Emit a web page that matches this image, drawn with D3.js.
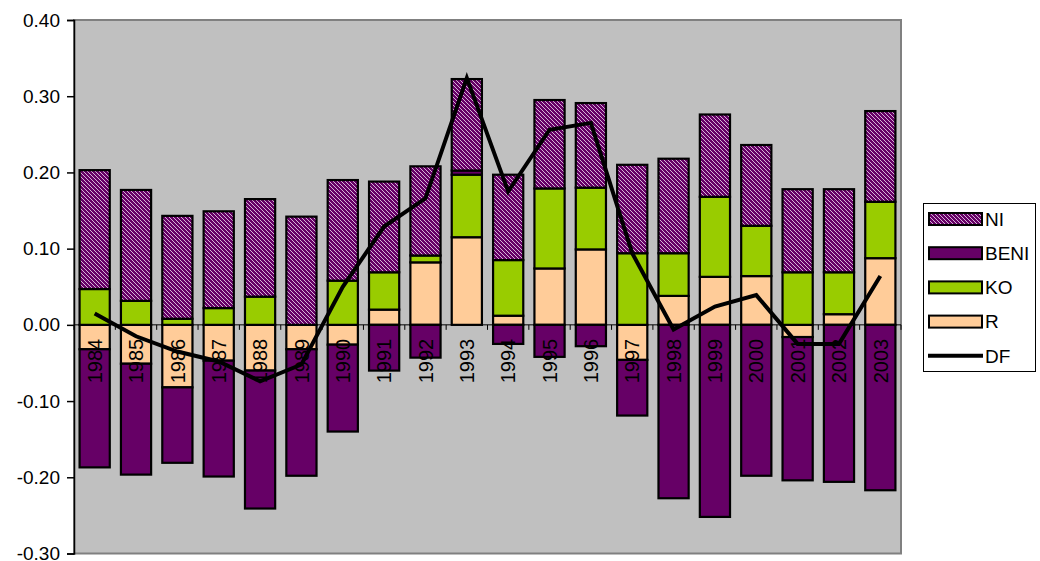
<!DOCTYPE html>
<html>
<head>
<meta charset="utf-8">
<script src="https://cdn.jsdelivr.net/npm/d3@7"></script>
<style>
  html, body { margin: 0; padding: 0; background: #fff; }
  svg { display: block; font-family: "Liberation Sans", Arial, sans-serif; }
</style>
</head>
<body>
<svg id="chart" width="1040" height="561"></svg>
<script>
// Yearly components (stacked) and their total DF
const years = ["1984","1985","1986","1987","1988","1989","1990","1991","1992","1993",
               "1994","1995","1996","1997","1998","1999","2000","2001","2002","2003"];
const R    = [-0.032,-0.051,-0.082,-0.047,-0.060,-0.032,-0.026, 0.020, 0.082, 0.115,
               0.012, 0.074, 0.099,-0.046, 0.038, 0.063, 0.064,-0.016, 0.014, 0.0875];
const KO   = [ 0.047, 0.0315,0.008, 0.022, 0.037, 0.000, 0.058, 0.049, 0.009, 0.082,
               0.073, 0.105, 0.081, 0.094, 0.056, 0.105, 0.066, 0.069, 0.055, 0.074];
const BENI = [-0.155,-0.1455,-0.099,-0.152,-0.181,-0.166,-0.114,-0.060,-0.043, 0.0055,
              -0.025,-0.042,-0.028,-0.073,-0.2275,-0.252,-0.198,-0.188,-0.206,-0.217];
const NI   = [ 0.156, 0.1455,0.135, 0.127, 0.128, 0.142, 0.132, 0.119, 0.117, 0.120,
               0.112, 0.116, 0.111, 0.116, 0.124, 0.108, 0.106, 0.109, 0.109, 0.119];
const DF   = [ 0.015,-0.015,-0.035,-0.048,-0.074,-0.052, 0.050, 0.129, 0.166, 0.324,
               0.175, 0.256, 0.265, 0.094,-0.006, 0.024, 0.039,-0.025,-0.025, 0.064];
const yTicks = [-0.3,-0.2,-0.1,0,0.1,0.2,0.3,0.4];
const legendItems = ["NI","BENI","KO","R","DF"];

const stackKeys = ["R","KO","BENI","NI"];
const seriesData = { R, KO, BENI, NI };
const rows = years.map((yr, i) => {
  const row = { year: yr };
  stackKeys.forEach(k => row[k] = seriesData[k][i]);
  return row;
});

const svg = d3.select("#chart");
const plot = { left: 74, top: 20, right: 901, bottom: 553.5 };

const x = d3.scaleBand().domain(years).range([plot.left, plot.right])
  .paddingInner(0.27).paddingOuter(0.135);
const y = d3.scaleLinear().domain([-0.3, 0.4]).range([plot.bottom, plot.top]);

// Hatched fill for NI
const defs = svg.append("defs");
const pat = defs.append("pattern").attr("id", "hatchNI")
  .attr("patternUnits", "userSpaceOnUse").attr("width", 4).attr("height", 4);
pat.append("rect").attr("width", 4).attr("height", 4).attr("fill", "#660066");
pat.append("path").attr("d", "M-1,-1L5,5M3,-1L5,1M-1,3L1,5")
  .attr("stroke", "#ead2ea").attr("stroke-width", 0.85);

const fills = { R: "#FFCC99", KO: "#99CC00", BENI: "#660066", NI: "url(#hatchNI)" };

// Plot area
svg.append("rect")
  .attr("x", plot.left).attr("y", plot.top)
  .attr("width", plot.right - plot.left).attr("height", plot.bottom - plot.top)
  .attr("fill", "#C0C0C0").attr("stroke", "#808080").attr("stroke-width", 2);

// Stacked bars, positives upward and negatives downward from zero
const stacked = d3.stack().keys(stackKeys).offset(d3.stackOffsetDiverging)(rows);
svg.append("g").selectAll("g").data(stacked).join("g")
  .attr("fill", d => fills[d.key])
  .selectAll("rect").data(d => d).join("rect")
  .attr("x", d => x(d.data.year))
  .attr("width", x.bandwidth())
  .attr("y", d => y(Math.max(d[0], d[1])))
  .attr("height", d => Math.abs(y(d[0]) - y(d[1])))
  .attr("stroke", "#000").attr("stroke-width", 2.2);

// Category axis along zero
const y0 = y(0);
const gx = svg.append("g");
gx.append("line").attr("x1", plot.left).attr("x2", plot.right)
  .attr("y1", y0).attr("y2", y0).attr("stroke", "#000").attr("stroke-width", 1);
gx.selectAll("line.tick").data(d3.range(years.length + 1)).join("line")
  .attr("class", "tick")
  .attr("x1", i => plot.left + i * x.step()).attr("x2", i => plot.left + i * x.step())
  .attr("y1", y0).attr("y2", y0 + 5).attr("stroke", "#000").attr("stroke-width", 1);

// DF line
const line = d3.line().x((d, i) => x(years[i]) + x.bandwidth() / 2).y(d => y(d));
svg.append("path").datum(DF)
  .attr("d", line).attr("fill", "none")
  .attr("stroke", "#000").attr("stroke-width", 4).attr("stroke-linejoin", "miter");

// Year labels, rotated, just under zero
gx.selectAll("text").data(years).join("text")
  .attr("transform", d => `translate(${x(d) + x.bandwidth() / 2},${y0 + 14}) rotate(-90)`)
  .attr("text-anchor", "end").attr("dy", "0.36em")
  .attr("font-size", 20).attr("fill", "#000")
  .text(d => d);

// Value axis
const fmt = v => d3.format(".2f")(v).replace("\u2212", "-");
const gy = svg.append("g").attr("transform", `translate(${plot.left},0)`)
  .call(d3.axisLeft(y).tickValues(yTicks).tickFormat(fmt).tickSizeOuter(0).tickSize(7).tickPadding(7));
gy.select(".domain").attr("stroke", "#000").attr("stroke-width", 1.5);
gy.selectAll(".tick line").attr("stroke", "#000").attr("stroke-width", 1.5);
gy.selectAll(".tick text").attr("font-size", 19).attr("fill", "#000")
  .attr("font-family", "'Liberation Sans', Arial, sans-serif");

// Legend
const lg = svg.append("g");
lg.append("rect").attr("x", 923.5).attr("y", 203.5).attr("width", 112).attr("height", 168)
  .attr("fill", "#fff").attr("stroke", "#000").attr("stroke-width", 1);
const legendFill = { NI: fills.NI, BENI: fills.BENI, KO: fills.KO, R: fills.R };
const items = lg.selectAll("g").data(legendItems).join("g")
  .attr("transform", (d, i) => `translate(928,${219 + i * 34.2})`);
items.filter(d => d !== "DF").append("rect")
  .attr("x", 1).attr("y", -6).attr("width", 53).attr("height", 12)
  .attr("fill", d => legendFill[d]).attr("stroke", "#000").attr("stroke-width", 2);
items.filter(d => d === "DF").append("line")
  .attr("x1", 0).attr("x2", 55).attr("y1", 0).attr("y2", 0)
  .attr("stroke", "#000").attr("stroke-width", 4);
items.append("text").attr("x", 57).attr("dy", "0.36em")
  .attr("font-size", 19).attr("fill", "#000").text(d => d);
</script>
</body>
</html>
